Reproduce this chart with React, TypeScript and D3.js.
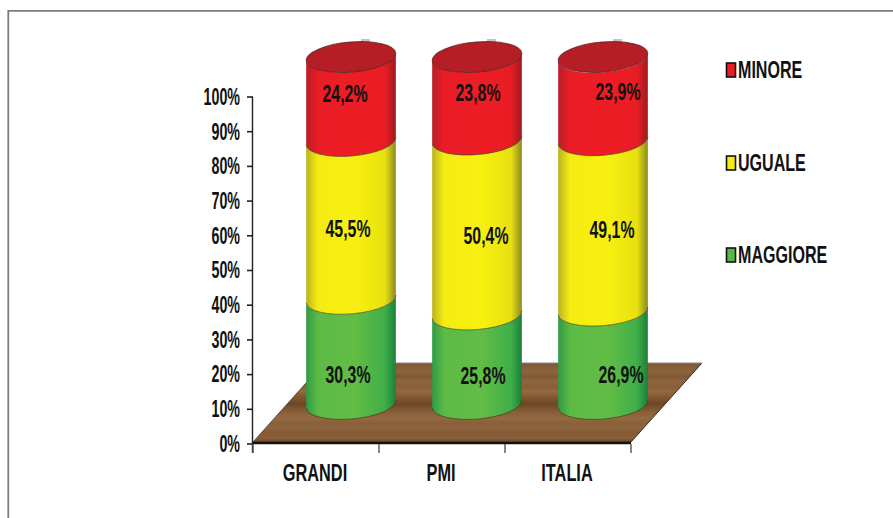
import React from "react";
import * as d3 from "d3";

// Survey shares by company size, stacked bottom to top
const categories = ["GRANDI", "PMI", "ITALIA"];
const seriesNames = ["MAGGIORE", "UGUALE", "MINORE"];
const maggiore = [30.3, 25.8, 26.9];
const uguale = [45.5, 50.4, 49.1];
const minore = [24.2, 23.8, 23.9];
const yTicks = [0, 10, 20, 30, 40, 50, 60, 70, 80, 90, 100];

const W = 893, H = 518;
const FONT = "'Liberation Sans', Arial, sans-serif";

const sideStops: Record<string, string[]> = {
  MAGGIORE: ["#2f9a45", "#5cba46", "#62bd45", "#3fae49", "#1c7f3a"],
  UGUALE: ["#b9b320", "#f4ec12", "#f7f00f", "#e8e010", "#8b8a22"],
  MINORE: ["#b8202a", "#ea1c25", "#ee1d25", "#e91c24", "#9c1c20"],
};
const legendFill: Record<string, string> = { MINORE: "#ed1c24", UGUALE: "#f4ec12", MAGGIORE: "#55b848" };

// Value label placement relative to each cylinder axis: [series][category] -> dx, y on screen
const labelDx = [[-3, 6, 18], [-3, 9, 9], [-6, 1, 15]];
const labelY = [[375, 376, 375], [229, 236, 230], [94, 93, 92]];

const legendRows = [
  { name: "MINORE", y: 70 },
  { name: "UGUALE", y: 163 },
  { name: "MAGGIORE", y: 255 },
];

// Wood grain bands across the floor, from back to front
const woodBands: [number, string][] = [
  [0, "#7b5433"], [0.06, "#86603c"], [0.12, "#8c633c"], [0.17, "#7f5732"], [0.23, "#8f6640"],
  [0.3, "#8a5f38"], [0.36, "#93693f"], [0.42, "#855a33"], [0.47, "#7a5029"], [0.52, "#6d4625"],
  [0.57, "#7c5330"], [0.63, "#8a6039"], [0.7, "#93693f"], [0.76, "#8a6039"], [0.82, "#8f653f"],
  [0.88, "#845a35"], [0.95, "#8a5f39"], [1, "#6a4526"],
];

// Narrow bold text: glyphs are squeezed horizontally around the anchor point
function Narrow({ x, y, anchor = "middle", size = 24, sx = 0.68, fill = "#111", children }: any) {
  return (
    <text
      transform={`translate(${x},${y}) scale(${sx},1)`}
      textAnchor={anchor}
      dominantBaseline="central"
      fontFamily={FONT}
      fontWeight="bold"
      fontSize={size}
      fill={fill}
    >
      {children}
    </text>
  );
}

export default function App() {
  const axisY = d3.scaleLinear().domain([0, 100]).range([444, 97]);
  const axisX = d3.scaleBand<string>().domain(categories).range([253, 631]);
  const depth = 40; // cylinders stand this far behind the axis plane
  const rx = 45, ry = 15, tilt = -5;
  const dxEnd = rx * Math.cos((tilt * Math.PI) / 180);
  const dyEnd = rx * Math.sin((tilt * Math.PI) / 180);
  const centers = d3.scalePoint<string>().domain(categories).range([351, 603]);

  const rows = categories.map((c, i) => ({ c, MAGGIORE: maggiore[i], UGUALE: uguale[i], MINORE: minore[i] }));
  const stacked = d3.stack<any>().keys(seriesNames)(rows);

  const segment = (cx: number, y0: number, y1: number) =>
    `M${cx - dxEnd},${y1 - dyEnd}` +
    `A${rx},${ry} ${tilt} 0 0 ${cx + dxEnd},${y1 + dyEnd}` +
    `L${cx + dxEnd},${y0 + dyEnd}` +
    `A${rx},${ry} ${tilt} 0 1 ${cx - dxEnd},${y0 - dyEnd}Z`;

  const floorTop = 363, floorBottom = 442;
  const floorPath = `M253,${floorBottom}L324,${floorTop}L702,${floorTop}L631,${floorBottom}Z`;

  return (
    <svg width={W} height={H} style={{ position: "absolute", left: 0, top: 0, background: "#fff" }}>
      <defs>
        {seriesNames.map((s) => (
          <linearGradient key={s} id={`side-${s}`} x1="0" x2="1" y1="0" y2="0">
            <stop offset="0" stopColor={sideStops[s][0]} />
            <stop offset="0.13" stopColor={sideStops[s][1]} />
            <stop offset="0.55" stopColor={sideStops[s][2]} />
            <stop offset="0.88" stopColor={sideStops[s][3]} />
            <stop offset="1" stopColor={sideStops[s][4]} />
          </linearGradient>
        ))}
        <linearGradient id="wood" x1="0" x2="0" y1="0" y2="1">
          {woodBands.map(([o, col]) => (
            <stop key={o} offset={o} stopColor={col} />
          ))}
        </linearGradient>
      </defs>

      {/* outer frame: only the top and left edges are visible */}
      <path d={`M8.3,${H}V10.8H${W}`} fill="none" stroke="#7d7d7d" strokeWidth={1.8} />

      {/* wooden floor */}
      <path d={floorPath} fill="url(#wood)" />
      <path d={`M253,${floorBottom}L324,${floorTop}`} stroke="#3a3a2a" strokeWidth={0.8} fill="none" />
      <path d={`M631,${floorBottom}L702,${floorTop}`} stroke="#3a2a1a" strokeWidth={1} fill="none" />
      <path d={`M324,${floorTop}H702`} stroke="#888" strokeWidth={1} fill="none" />

      {/* axes */}
      <path d={`M252.5,${axisY(100)}V${axisY(0) + 9}`} stroke="#222" strokeWidth={1.4} fill="none" />
      {yTicks.map((t) => (
        <g key={t}>
          <line x1={247} x2={253} y1={axisY(t)} y2={axisY(t)} stroke="#222" strokeWidth={1.6} />
          <Narrow x={240} y={axisY(t)} anchor="end" size={23} sx={0.62}>{t}%</Narrow>
        </g>
      ))}
      <line x1={253} x2={631} y1={443} y2={443} stroke="#111" strokeWidth={2.4} />
      {[...categories.map((c) => axisX(c)!), 631].map((x, i) => (
        <line key={i} x1={x} x2={x} y1={444} y2={453} stroke="#555" strokeWidth={1.4} />
      ))}
      {categories.map((c) => (
        <Narrow key={c} x={axisX(c)! + axisX.bandwidth() / 2 - 1} y={472}>{c}</Narrow>
      ))}

      {/* stacked cylinders */}
      {categories.map((c, ci) => {
        const cx = centers(c)!;
        const topY = axisY(100) - depth;
        return (
          <g key={c}>
            <rect x={cx + 10} y={topY - 18} width={9} height={4} fill="#c4c4c4" />
            {stacked.map((layer) => {
              const [v0, v1] = layer[ci];
              return (
                <path
                  key={layer.key}
                  d={segment(cx, axisY(v0) - depth, axisY(v1) - depth)}
                  fill={`url(#side-${layer.key})`}
                />
              );
            })}
            {stacked.map((layer) => {
              const y0 = axisY(layer[ci][0]) - depth;
              return (
                <path
                  key={layer.key}
                  d={`M${cx - dxEnd},${y0 - dyEnd}A${rx},${ry} ${tilt} 0 0 ${cx + dxEnd},${y0 + dyEnd}`}
                  fill="none"
                  stroke="#3c3c1e"
                  strokeOpacity={0.65}
                  strokeWidth={1}
                />
              );
            })}
            <ellipse
              cx={cx}
              cy={topY}
              rx={rx}
              ry={ry}
              transform={`rotate(${tilt} ${cx} ${topY})`}
              fill="#b51e24"
              stroke="#4a1a1a"
              strokeOpacity={0.7}
              strokeWidth={1}
            />
          </g>
        );
      })}

      {/* value labels */}
      {stacked.map((layer, si) =>
        categories.map((c, ci) => {
          const v = layer[ci][1] - layer[ci][0];
          return (
            <Narrow key={c + layer.key} x={centers(c)! + labelDx[si][ci]} y={labelY[si][ci]} size={23} sx={0.69}>
              {d3.format(".1f")(v).replace(".", ",")}%
            </Narrow>
          );
        })
      )}

      {/* legend */}
      {legendRows.map((r) => (
        <g key={r.name}>
          <rect x={726.5} y={r.y - 7} width={9} height={14} fill={legendFill[r.name]} stroke="#111" strokeWidth={1.6} />
          <Narrow x={738} y={r.y} anchor="start" sx={0.67}>{r.name}</Narrow>
        </g>
      ))}
    </svg>
  );
}
